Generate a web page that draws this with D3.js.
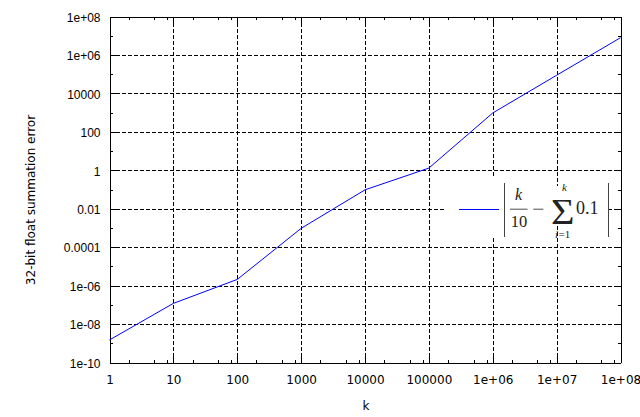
<!DOCTYPE html>
<html>
<head>
<meta charset="utf-8">
<script src="https://cdn.jsdelivr.net/npm/d3@7"></script>
<style>
  html, body { margin: 0; padding: 0; background: #ffffff; }
  svg { display: block; }
</style>
</head>
<body>
<div id="chart"></div>
<script>
// k values (number of 0.1 summed) and the absolute float32 error
const kValues     = [1, 10, 100, 1e3, 1e4, 1e5, 1e6, 1e7, 1e8];
const errorValues = [1.49e-9, 1.19e-7, 2.1e-6, 9.5e-4, 0.096, 1.3, 958, 87937, 7.9e6];

const xTickValues = [1, 10, 100, 1e3, 1e4, 1e5, 1e6, 1e7, 1e8];
const xTickLabels = ['1', '10', '100', '1000', '10000', '100000', '1e+06', '1e+07', '1e+08'];
const yTickValues = [1e-10, 1e-8, 1e-6, 1e-4, 1e-2, 1, 100, 1e4, 1e6, 1e8];
const yTickLabels = ['1e-10', '1e-08', '1e-06', '0.0001', '0.01', '1', '100', '10000', '1e+06', '1e+08'];

const xLabel = 'k';
const yLabel = '32-bit float summation error';

const width  = 640;
const height = 417;
const margin = {top: 16.5, left: 109.5, right: 19.5, bottom: 54.5};
const majorTick = 6;
const minorTick = 3;

const svg = d3.select('#chart')
  .append('svg')
  .attr('width', width)
  .attr('height', height)
  .style('font-family', '"DejaVu Sans", sans-serif');

const xScale = d3.scaleLog()
  .domain([1, 1e8])
  .range([margin.left, width - margin.right]);

const yScale = d3.scaleLog()
  .domain([1e-10, 1e8])
  .range([height - margin.bottom, margin.top]);

// minor tick positions: x at 2,5,8 of each decade, y at the odd decades
const xMinor = [];
xTickValues.slice(0, -1).forEach(d => [2, 5, 8].forEach(m => xMinor.push(d * m)));
const yMinor = yTickValues.slice(0, -1).map(d => d * 10);

// grid
const grid = svg.append('g')
  .attr('stroke', '#000')
  .attr('stroke-width', 1)
  .attr('stroke-dasharray', '4,2')
  .attr('shape-rendering', 'crispEdges');

grid.selectAll('.gx')
  .data(xTickValues.slice(1, -1))
  .enter().append('line')
  .attr('x1', d => Math.round(xScale(d)) + 0.5)
  .attr('x2', d => Math.round(xScale(d)) + 0.5)
  .attr('y1', margin.top)
  .attr('y2', height - margin.bottom);

grid.selectAll('.gy')
  .data(yTickValues.slice(1, -1))
  .enter().append('line')
  .attr('y1', d => Math.round(yScale(d)) + 0.5)
  .attr('y2', d => Math.round(yScale(d)) + 0.5)
  .attr('x1', margin.left)
  .attr('x2', width - margin.right);

// axes, ticks pointing inward
function styleAxis(g) {
  g.selectAll('path, line').attr('stroke', '#000').attr('shape-rendering', 'crispEdges');
  g.selectAll('text').attr('fill', '#000').style('font-size', '12px');
}

svg.append('g')
  .attr('transform', `translate(0, ${height - margin.bottom})`)
  .call(d3.axisBottom(xScale).tickValues(xTickValues)
    .tickFormat((d, i) => xTickLabels[i])
    .tickSizeInner(-majorTick).tickSizeOuter(0).tickPadding(13))
  .call(styleAxis)
  .call(g => g.selectAll('text').attr('font-family', '"DejaVu Sans", sans-serif'));

svg.append('g')
  .attr('transform', `translate(0, ${height - margin.bottom})`)
  .call(d3.axisBottom(xScale).tickValues(xMinor).tickFormat('')
    .tickSizeInner(-minorTick).tickSizeOuter(0))
  .call(styleAxis);

svg.append('g')
  .attr('transform', `translate(0, ${margin.top})`)
  .call(d3.axisTop(xScale).tickValues(xTickValues).tickFormat('')
    .tickSizeInner(-majorTick).tickSizeOuter(0))
  .call(styleAxis);

svg.append('g')
  .attr('transform', `translate(0, ${margin.top})`)
  .call(d3.axisTop(xScale).tickValues(xMinor).tickFormat('')
    .tickSizeInner(-minorTick).tickSizeOuter(0))
  .call(styleAxis);

svg.append('g')
  .attr('transform', `translate(${margin.left}, 0)`)
  .call(d3.axisLeft(yScale).tickValues(yTickValues)
    .tickFormat((d, i) => yTickLabels[i])
    .tickSizeInner(-majorTick).tickSizeOuter(0).tickPadding(9))
  .call(styleAxis)
  .call(g => g.selectAll('text').attr('dy', '0.4em'));

svg.append('g')
  .attr('transform', `translate(${margin.left}, 0)`)
  .call(d3.axisLeft(yScale).tickValues(yMinor).tickFormat('')
    .tickSizeInner(-minorTick).tickSizeOuter(0))
  .call(styleAxis);

svg.append('g')
  .attr('transform', `translate(${width - margin.right}, 0)`)
  .call(d3.axisRight(yScale).tickValues(yTickValues).tickFormat('')
    .tickSizeInner(-majorTick).tickSizeOuter(0))
  .call(styleAxis);

svg.append('g')
  .attr('transform', `translate(${width - margin.right}, 0)`)
  .call(d3.axisRight(yScale).tickValues(yMinor).tickFormat('')
    .tickSizeInner(-minorTick).tickSizeOuter(0))
  .call(styleAxis);

// axis labels
svg.append('text')
  .attr('x', (margin.left + width - margin.right) / 2 + 1)
  .attr('y', 410)
  .attr('text-anchor', 'middle')
  .style('font-size', '12px')
  .text(xLabel);

svg.append('text')
  .attr('transform', 'rotate(-90)')
  .attr('x', -200)
  .attr('y', 35)
  .attr('text-anchor', 'middle')
  .style('font-size', '12px')
  .text(yLabel);

// key background (opaque key)
const key = svg.append('g');
key.append('rect')
  .attr('x', 444).attr('y', 177).attr('width', 101).attr('height', 61)
  .attr('fill', '#fff');
key.append('rect')
  .attr('x', 545).attr('y', 186).attr('width', 63).attr('height', 39)
  .attr('fill', '#fff');

// data line
const line = d3.line()
  .x(d => xScale(d[0]))
  .y(d => yScale(d[1]));

svg.append('path')
  .datum(kValues.map((k, i) => [k, errorValues[i]]))
  .attr('d', line)
  .attr('fill', 'none')
  .attr('stroke', '#0000ff')
  .attr('stroke-width', 1);

// key sample
svg.append('line')
  .attr('x1', 459).attr('x2', 499)
  .attr('y1', 209.5).attr('y2', 209.5)
  .attr('stroke', '#0000ff')
  .attr('stroke-width', 1)
  .attr('shape-rendering', 'crispEdges');

// formula |k/10 - sum_{i=1}^{k} 0.1|
const math = svg.append('g')
  .attr('fill', '#222')
  .style('font-family', '"Liberation Serif", "DejaVu Serif", serif');

math.selectAll('.bar')
  .data([504.5, 608.5])
  .enter().append('line')
  .attr('x1', d => d).attr('x2', d => d)
  .attr('y1', 183).attr('y2', 237)
  .attr('stroke', '#444')
  .attr('stroke-width', 1);

math.append('text')
  .attr('x', 518.5).attr('y', 199.5)
  .attr('text-anchor', 'middle')
  .style('font-size', '16px').style('font-style', 'italic')
  .text('k');

math.append('line')
  .attr('x1', 510).attr('x2', 527.5)
  .attr('y1', 209.2).attr('y2', 209.2)
  .attr('stroke', '#222').attr('stroke-width', 0.8);

math.append('text')
  .attr('x', 519).attr('y', 226.7)
  .attr('text-anchor', 'middle')
  .style('font-size', '16.5px')
  .text('10');

math.append('line')
  .attr('x1', 533.3).attr('x2', 543.3)
  .attr('y1', 209.2).attr('y2', 209.2)
  .attr('stroke', '#222').attr('stroke-width', 0.8);

math.append('text')
  .attr('x', 562.7).attr('y', 224.5)
  .attr('text-anchor', 'middle')
  .attr('transform', 'translate(562.7, 0) scale(1.15, 1) translate(-562.7, 0)')
  .style('font-size', '35px')
  .text('\u03A3');

math.append('text')
  .attr('x', 564.5).attr('y', 191)
  .attr('text-anchor', 'middle')
  .style('font-size', '11px').style('font-style', 'italic')
  .text('k');

math.append('text')
  .attr('x', 558).attr('y', 237.5)
  .attr('text-anchor', 'end')
  .style('font-size', '11px').style('font-style', 'italic')
  .text('i');

math.append('text')
  .attr('x', 558.5).attr('y', 237.5)
  .attr('text-anchor', 'start')
  .style('font-size', '11px')
  .text('=1');

math.append('text')
  .attr('x', 576).attr('y', 214.3)
  .style('font-size', '18px')
  .text('0.1');
</script>
</body>
</html>
